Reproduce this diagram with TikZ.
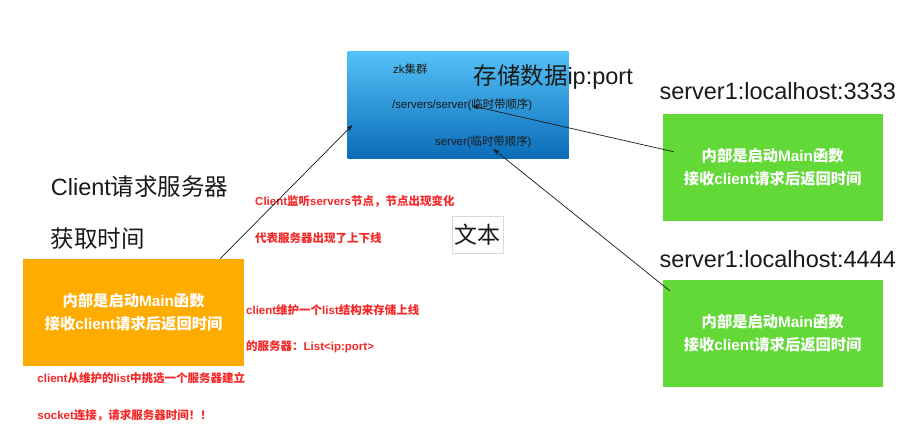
\documentclass[tikz,border=0pt]{standalone}
\usepackage{fontspec}
\setmainfont{Liberation Sans}
\newfontfamily\cjkfont{Noto Sans CJK SC}
\newcommand\zhs[1]{{\cjkfont #1}}
\usetikzlibrary{arrows.meta}
\definecolor{orangebox}{HTML}{FFAC00}
\definecolor{greenbox}{HTML}{62D937}
\definecolor{notered}{HTML}{F52828}
\definecolor{zktop}{HTML}{55C2F8}
\definecolor{zkbot}{HTML}{0A6CB8}
\definecolor{ink}{HTML}{1A1A1A}
\begin{document}
\begin{tikzpicture}[x=1pt,y=-1pt,
  box/.style={minimum width=220pt, minimum height=107pt, inner sep=0pt, text=white,
    font=\fontsize{15.3}{23}\selectfont\bfseries, align=center},
  big/.style={anchor=west, inner sep=0pt, font=\fontsize{23.5}{23.5}\selectfont, text=ink},
  note/.style={anchor=west, inner sep=0pt, font=\fontsize{11.5}{12}\selectfont\bfseries, text=notered},
  small/.style={anchor=west, inner sep=0pt, font=\fontsize{11.4}{12}\selectfont, text=ink},
  conn/.style={-{Stealth[length=7pt,width=4.5pt]}, line width=0.7pt, ink}]
\useasboundingbox[fill=white] (0,0) rectangle (914,446);

% boxes
\node[box, fill=orangebox, minimum width=221pt] (client) at (133.6,312.3)
  {\zhs{内部是启动}Main\zhs{函数}\\\zhs{接收}client\zhs{请求后返回时间}};
\node[box, fill=greenbox] (srvA) at (772.7,167.5)
  {\zhs{内部是启动}Main\zhs{函数}\\\zhs{接收}client\zhs{请求后返回时间}};
\node[box, fill=greenbox] (srvB) at (772.7,333.5)
  {\zhs{内部是启动}Main\zhs{函数}\\\zhs{接收}client\zhs{请求后返回时间}};
\node[minimum width=221pt, minimum height=107pt, inner sep=0pt,
  top color=zktop, bottom color=zkbot] (zk) at (458,104.8) {};

% texts in zk box
\node[small] (zkname) at (393,69.3) {zk\zhs{集群}};
\node[small] (zkpath) at (392,105) {/servers/server(\zhs{临时带顺序})};
\node[small] (zkchild) at (435,141.7) {server(\zhs{临时带顺序})};
\node[big] (store) at (473.3,76.7) {\zhs{存储数据}ip:port};

% titles
\node[big] (titleA) at (659.3,90.7) {server1:localhost:3333};
\node[big] (titleB) at (659.3,259) {server1:localhost:4444};
\node[big] (req1) at (50.7,187) {Client\zhs{请求服务器}};
\node[big] (req2) at (50.7,239) {\zhs{获取时间}};

% text box
\node[draw=black!15, line width=0.8pt, minimum width=51pt, minimum height=37pt, inner sep=0pt,
  font=\fontsize{23}{23}\selectfont, text=ink] (txt) at (477.8,234.5) {\zhs{文本}};

% red notes
\node[note] (n1) at (255,201.7) {Client\zhs{监听}servers\zhs{节点，节点出现变化}};
\node[note] (n2) at (255,238) {\zhs{代表服务器出现了上下线}};
\node[note] (n3) at (246,310) {client\zhs{维护一个}list\zhs{结构来存储上线}};
\node[note] (n4) at (246,347) {\zhs{的服务器：}List<ip:port>};
\node[note] (n5) at (37.3,378.3) {client\zhs{从维护的}list\zhs{中挑选一个服务器建立}};
\node[note] (n6) at (37.3,415.7) {socket\zhs{连接，请求服务器时间！！}};

% connector end points
\coordinate (a1s) at ([xshift=-24pt]client.north east);
\coordinate (a1e) at ([xshift=5.4pt,yshift=-73.7pt]zk.north west);
\coordinate (a2s) at ([xshift=11.3pt,yshift=-38pt]srvA.north west);
\coordinate (a2e) at ([xshift=124.7pt,yshift=-54.7pt]zk.north west);
\coordinate (a3s) at ([xshift=7.3pt,yshift=-11pt]srvB.north west);
\coordinate (a3e) at ([xshift=145.7pt,yshift=-97.7pt]zk.north west);

\draw[conn] (a1s) -- (a1e);
\draw[conn] (a2s) -- (a2e);
\draw[conn] (a3s) -- (a3e);
\end{tikzpicture}
\end{document}
